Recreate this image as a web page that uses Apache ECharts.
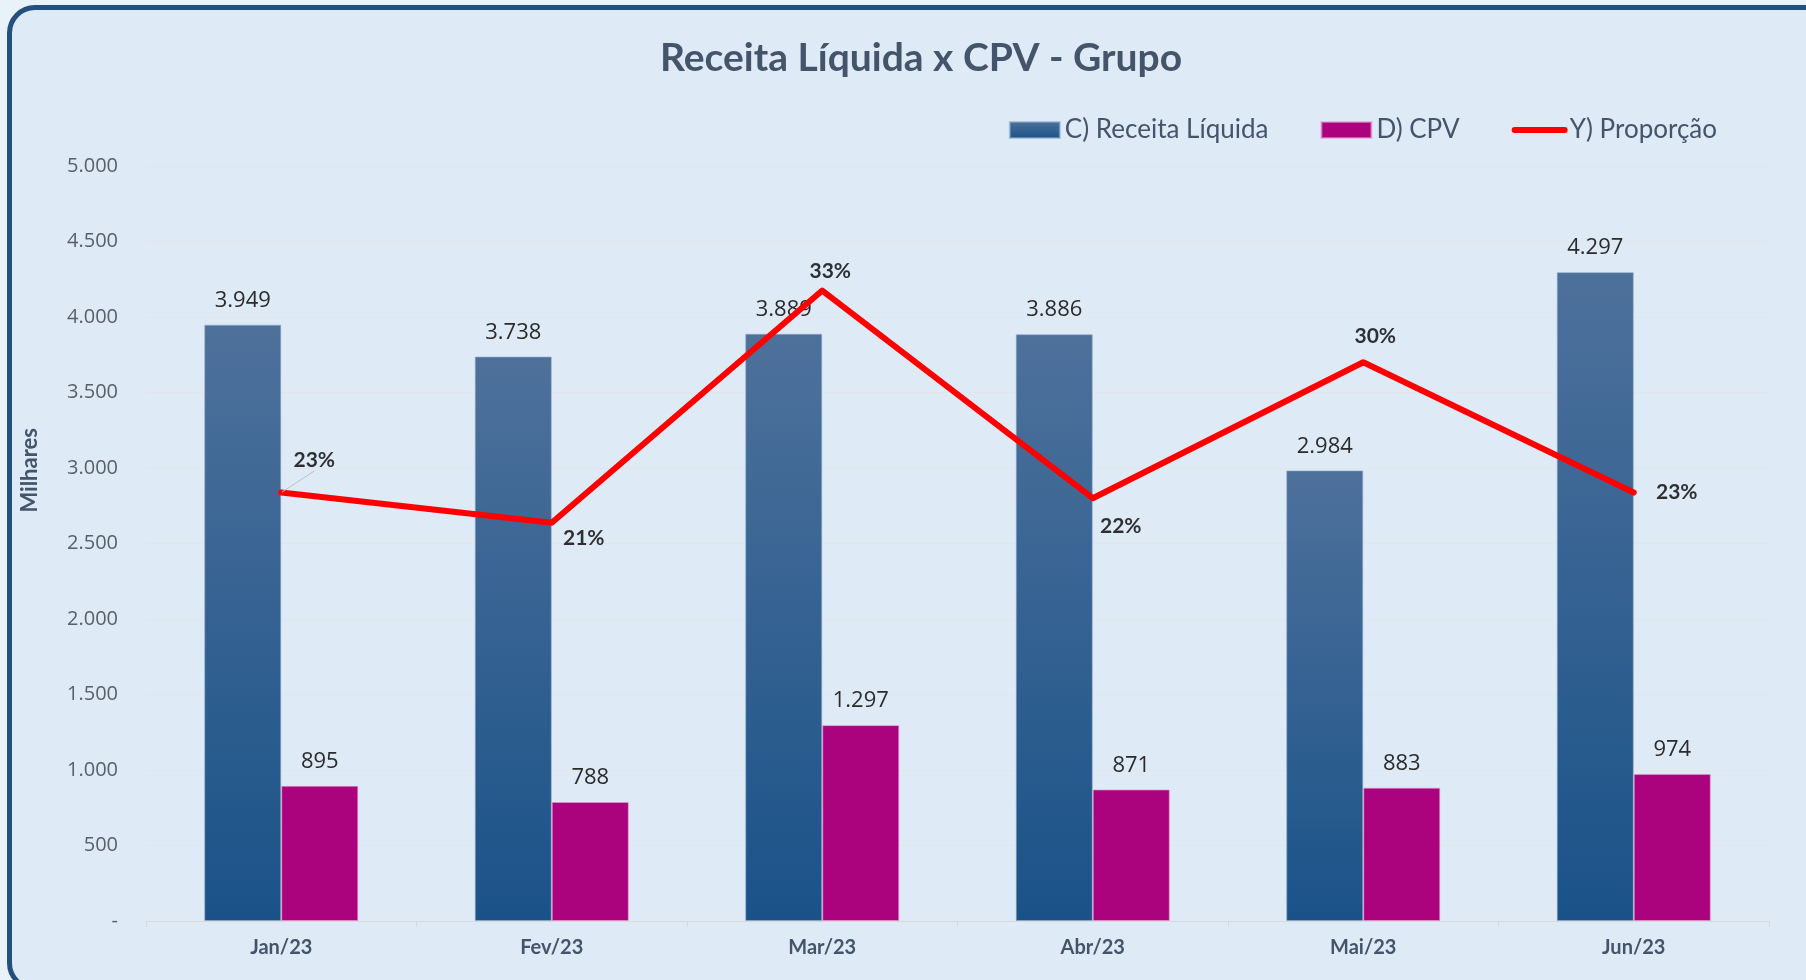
<!DOCTYPE html>
<html>
<head>
<meta charset="utf-8">
<title>Receita Líquida x CPV - Grupo</title>
<script src="https://cdn.jsdelivr.net/npm/echarts@6/dist/echarts.min.js"></script>
<style>
  html, body { margin: 0; padding: 0; width: 1806px; height: 980px; overflow: hidden; background: #e9f1f9; }
  #frame {
    position: absolute; left: 7px; top: 5px; width: 1830px; height: 986px;
    box-sizing: border-box; border: 5px solid #23507d; border-radius: 28px;
    background: #deeaf6;
  }
  #chart { position: absolute; left: 0; top: 0; width: 1806px; height: 980px; }
</style>
</head>
<body>
<div id="frame"></div>
<div id="chart"></div>
<script>
// dados
var months = ['Jan/23', 'Fev/23', 'Mar/23', 'Abr/23', 'Mai/23', 'Jun/23'];
var receita = [3949, 3738, 3889, 3886, 2984, 4297];
var cpv = [895, 788, 1297, 871, 883, 974];
var proporcao = [0.227, 0.211, 0.334, 0.224, 0.296, 0.227];
var yTicks = [0, 500, 1000, 1500, 2000, 2500, 3000, 3500, 4000, 4500, 5000];

// posições dos rótulos de % (deslocamento em px a partir do ponto)
var pctOffsets = [[33, -32], [32, 15], [8, -19], [28, 28], [12, -26], [43, 0]];

function fmt(v) {
    return String(v).replace(/\B(?=(\d{3})+(?!\d))/g, '.');
}

var slate = '#44546a';
var chart = echarts.init(document.getElementById('chart'));

var pctData = proporcao.map(function (v, i) {
    var item = {
        value: v,
        label: { offset: pctOffsets[i] }
    };
    if (i === 0) {
        item.labelLine = { show: true, lineStyle: { color: '#bfbfbf', width: 1 } };
    }
    return item;
});

chart.setOption({
    backgroundColor: 'transparent',
    title: {
        text: 'Receita Líquida x CPV - Grupo',
        left: 916,
        top: 34,
        textAlign: 'center',
        textStyle: { fontFamily: 'Lato', fontWeight: 'bold', fontSize: 39, color: slate }
    },
    legend: {
        right: 84,
        top: 112,
        itemWidth: 50,
        itemHeight: 16,
        itemGap: 52,
        textStyle: { fontFamily: 'Lato', fontSize: 26, color: slate },
        data: [
            { name: 'C) Receita Líquida', icon: 'rect' },
            { name: 'D) CPV', icon: 'rect' },
            {
                name: 'Y) Proporção',
                itemStyle: { color: 'rgba(0,0,0,0)', borderWidth: 0 },
                lineStyle: { color: '#ff0000', width: 6, cap: 'round' }
            }
        ]
    },
    grid: { left: 146, right: 37, top: 166, bottom: 59 },
    xAxis: {
        type: 'category',
        data: months,
        axisLine: { lineStyle: { color: '#d9d9d9', width: 1 } },
        axisTick: { show: true, length: 6, lineStyle: { color: '#d9d9d9' } },
        axisLabel: { margin: 17, fontFamily: 'Lato', fontWeight: 'bold', fontSize: 20, color: slate }
    },
    yAxis: [
        {
            type: 'value',
            min: yTicks[0],
            max: yTicks[yTicks.length - 1],
            interval: 500,
            axisLine: { show: false },
            axisTick: { show: false },
            splitLine: { lineStyle: { color: '#e2e5e9', width: 1 } },
            axisLabel: {
                margin: 28,
                fontFamily: 'Open Sans',
                fontSize: 20,
                color: '#5a6068',
                formatter: function (v) { return v === 0 ? '-' : fmt(v); }
            }
        },
        {
            type: 'value',
            min: 0,
            max: 0.4,
            show: false,
            splitLine: { show: false }
        }
    ],
    graphic: [{
        type: 'text',
        left: 19,
        top: 428,
        rotation: Math.PI / 2,
        style: {
            text: 'Milhares',
            fontFamily: 'Lato',
            fontWeight: 'bold',
            fontSize: 22,
            fill: slate
        }
    }],
    series: [
        {
            name: 'C) Receita Líquida',
            type: 'bar',
            data: receita,
            barWidth: 77,
            barGap: '0%',
            itemStyle: {
                color: new echarts.graphic.LinearGradient(0, 0, 0, 1, [
                    { offset: 0, color: '#4e719b' },
                    { offset: 1, color: '#1a5288' }
                ]),
                borderColor: 'rgba(140,170,205,0.6)',
                borderWidth: 1
            },
            label: {
                show: true,
                position: 'top',
                distance: 13,
                fontFamily: 'Open Sans',
                fontSize: 22,
                color: '#2b2b2b',
                formatter: function (p) { return fmt(p.value); }
            }
        },
        {
            name: 'D) CPV',
            type: 'bar',
            data: cpv,
            barWidth: 77,
            barGap: '0%',
            itemStyle: { color: '#ab037e', borderColor: 'rgba(230,150,210,0.6)', borderWidth: 1 },
            label: {
                show: true,
                position: 'top',
                distance: 13,
                fontFamily: 'Open Sans',
                fontSize: 22,
                color: '#2b2b2b',
                formatter: function (p) { return fmt(p.value); }
            }
        },
        {
            name: 'Y) Proporção',
            type: 'line',
            yAxisIndex: 1,
            data: proporcao,
            symbol: 'none',
            z: 5,
            lineStyle: { color: '#ff0000', width: 6, cap: 'round', join: 'round' },
            itemStyle: { color: '#ff0000' }
        },
        {
            name: 'rotulos',
            type: 'scatter',
            yAxisIndex: 1,
            data: pctData,
            symbolSize: 2,
            itemStyle: { color: 'rgba(0,0,0,0)' },
            silent: true,
            z: 6,
            label: {
                show: true,
                position: 'inside',
                fontFamily: 'Lato',
                fontWeight: 'bold',
                fontSize: 21,
                color: '#000000',
                formatter: function (p) { return Math.round(p.value * 100) + '%'; }
            }
        }
    ]
});
</script>
</body>
</html>
